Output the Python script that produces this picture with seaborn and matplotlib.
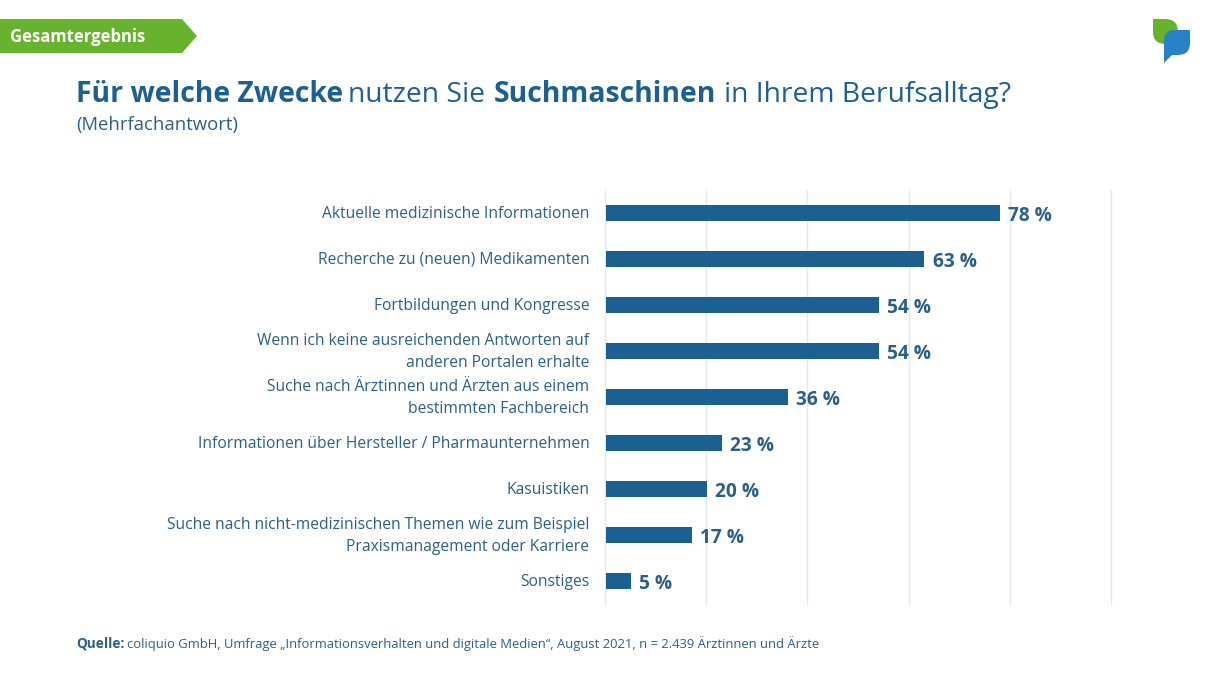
import matplotlib
matplotlib.use("Agg")
import matplotlib.pyplot as plt
from matplotlib.patches import Polygon, PathPatch
from matplotlib.path import Path
from matplotlib.transforms import ScaledTranslation
import pandas as pd
import seaborn as sns

categories = [
    "Aktuelle medizinische Informationen",
    "Recherche zu (neuen) Medikamenten",
    "Fortbildungen und Kongresse",
    "Wenn ich keine ausreichenden Antworten auf\nanderen Portalen erhalte",
    "Suche nach Ärztinnen und Ärzten aus einem\nbestimmten Fachbereich",
    "Informationen über Hersteller / Pharmaunternehmen",
    "Kasuistiken",
    "Suche nach nicht-medizinischen Themen wie zum Beispiel\nPraxismanagement oder Karriere",
    "Sonstiges",
]
values = [78, 63, 54, 54, 36, 23, 20, 17, 5]
x_ticks = [0, 20, 40, 60, 80, 100]

BLUE = "#1c6091"
TEXT = "#2b5f88"
GRID = "#dde9f3"
GREEN = "#67b32e"
LOGO_BLUE = "#2a82c6"
FONT = ["Open Sans", "DejaVu Sans"]

sns.set_theme(style="white")
plt.rcParams["font.family"] = FONT

W, H = 1210, 680
fig = plt.figure(figsize=(W / 100, H / 100), dpi=100, facecolor="white")
ax = fig.add_axes([605.5 / W, 1 - 604 / H, 506 / W, 414 / H])

df = pd.DataFrame({"Zweck": categories, "Anteil": values})
sns.barplot(data=df, x="Anteil", y="Zweck", orient="h", color=BLUE, saturation=1,
            width=0.36, linewidth=0, ax=ax, zorder=3)
ax.set_xlim(0, 100)
ax.set_ylim(len(categories) - 0.5, -0.5)
ax.set_xticks(x_ticks)
ax.set_xlabel("")
ax.set_ylabel("")
ax.xaxis.grid(True, color=GRID, linewidth=1.0, clip_on=False)
ax.set_axisbelow(True)
for gl in ax.get_xgridlines():
    gl.set_transform(gl.get_transform() + ScaledTranslation(-0.5 / 100, 0, fig.dpi_scale_trans))
ax.tick_params(axis="x", length=0, labelbottom=False)
ax.tick_params(axis="y", length=0, pad=11.7, labelsize=11.25, labelcolor=TEXT)
for label in ax.get_yticklabels():
    label.set_linespacing(1.46)
    label.set_ha("right")
    shift = 3.9 if "\n" in label.get_text() else 1.4
    label.set_transform(label.get_transform()
                        + ScaledTranslation(0, shift / 100, fig.dpi_scale_trans))
for s in ax.spines.values():
    s.set_visible(False)

for i, v in enumerate(values):
    ax.annotate(f"{v} %", (v, i), xytext=(8.3, -2.6), textcoords="offset pixels",
                ha="left", va="center", fontsize=13.8, fontweight="bold", color=TEXT)

# Overlay in reference pixel coordinates for decoration and header text
ov = fig.add_axes([0, 0, 1, 1], zorder=5)
ov.set_xlim(0, W)
ov.set_ylim(H, 0)
ov.axis("off")
ov.patch.set_alpha(0)

ov.add_patch(Polygon([(0, 19), (182, 19), (197, 36), (182, 53), (0, 53)],
                     closed=True, facecolor=GREEN, edgecolor="none"))
ov.text(10, 36.5, "Gesamtergebnis", color="white", fontsize=12.0, fontweight="bold",
        va="center", ha="left")

# Logo
leaf = Path([(1153, 19), (1165, 19), (1178, 19), (1178, 32), (1178, 44), (1166, 44),
             (1153, 44), (1153, 32), (1153, 19)],
            [Path.MOVETO, Path.LINETO, Path.CURVE3, Path.CURVE3, Path.CURVE3, Path.CURVE3,
             Path.CURVE3, Path.CURVE3, Path.CLOSEPOLY])
ov.add_patch(PathPatch(leaf, facecolor=GREEN, edgecolor="none"))
bubble = Path([(1190, 30), (1174, 30), (1164, 30), (1164, 41), (1164, 63), (1172, 55), (1178, 55),
               (1190, 55), (1190, 43), (1190, 30), (1190, 30)],
              [Path.MOVETO, Path.LINETO, Path.CURVE3, Path.CURVE3, Path.LINETO, Path.LINETO,
               Path.LINETO, Path.CURVE3, Path.CURVE3, Path.LINETO, Path.CLOSEPOLY])
ov.add_patch(PathPatch(bubble, facecolor=LOGO_BLUE, edgecolor="none"))

# Mixed-weight title
title_parts = [("Für welche Zwecke", "bold", 76, 20.4), ("nutzen Sie", "normal", 348, 20.3),
               ("Suchmaschinen", "bold", 494, 20.4), ("in Ihrem Berufsalltag?", "normal", 724, 20.3)]
for txt, weight, x, size in title_parts:
    ov.text(x, 95, txt, color=BLUE, fontsize=size, fontweight=weight,
            va="center", ha="left")
ov.text(76, 125, "(Mehrfachantwort)", color=TEXT, fontsize=13.3, va="center", ha="left")

ov.text(76, 644, "Quelle:", color=TEXT, fontsize=9.8, fontweight="bold", va="center", ha="left")
ov.text(127, 644, "coliquio GmbH, Umfrage „Informationsverhalten und digitale Medien“, August 2021, n = 2.439 Ärztinnen und Ärzte",
        color=TEXT, fontsize=9.35, va="center", ha="left")

fig.savefig("out.png", dpi=100, facecolor="white")
